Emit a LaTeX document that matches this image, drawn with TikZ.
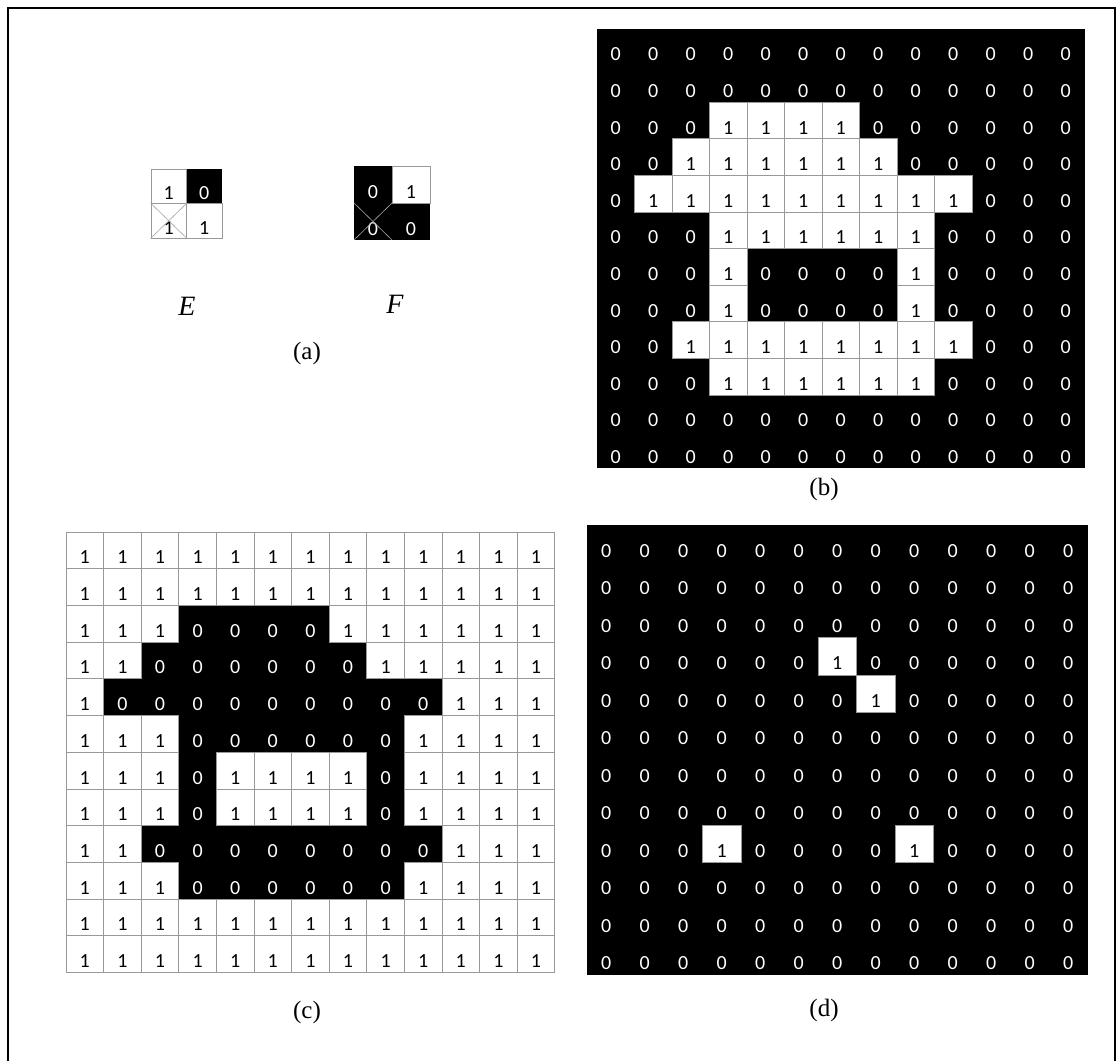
\documentclass[tikz,border=0pt]{standalone}
\usepackage{fontspec}
\setmainfont{Liberation Serif}
\newfontfamily\cellfont{Carlito}
\usepackage{tikz}
\usetikzlibrary{positioning}

% cell values, one brace group per row
\def\gridE{{1,0},{1,1}}
\def\gridF{{0,1},{0,0}}
\def\gridB{{0,0,0,0,0,0,0,0,0,0,0,0,0},{0,0,0,0,0,0,0,0,0,0,0,0,0},{0,0,0,1,1,1,1,0,0,0,0,0,0},{0,0,1,1,1,1,1,1,0,0,0,0,0},{0,1,1,1,1,1,1,1,1,1,0,0,0},{0,0,0,1,1,1,1,1,1,0,0,0,0},{0,0,0,1,0,0,0,0,1,0,0,0,0},{0,0,0,1,0,0,0,0,1,0,0,0,0},{0,0,1,1,1,1,1,1,1,1,0,0,0},{0,0,0,1,1,1,1,1,1,0,0,0,0},{0,0,0,0,0,0,0,0,0,0,0,0,0},{0,0,0,0,0,0,0,0,0,0,0,0,0}}
\def\gridC{{1,1,1,1,1,1,1,1,1,1,1,1,1},{1,1,1,1,1,1,1,1,1,1,1,1,1},{1,1,1,0,0,0,0,1,1,1,1,1,1},{1,1,0,0,0,0,0,0,1,1,1,1,1},{1,0,0,0,0,0,0,0,0,0,1,1,1},{1,1,1,0,0,0,0,0,0,1,1,1,1},{1,1,1,0,1,1,1,1,0,1,1,1,1},{1,1,1,0,1,1,1,1,0,1,1,1,1},{1,1,0,0,0,0,0,0,0,0,1,1,1},{1,1,1,0,0,0,0,0,0,1,1,1,1},{1,1,1,1,1,1,1,1,1,1,1,1,1},{1,1,1,1,1,1,1,1,1,1,1,1,1}}
\def\gridD{{0,0,0,0,0,0,0,0,0,0,0,0,0},{0,0,0,0,0,0,0,0,0,0,0,0,0},{0,0,0,0,0,0,0,0,0,0,0,0,0},{0,0,0,0,0,0,1,0,0,0,0,0,0},{0,0,0,0,0,0,0,1,0,0,0,0,0},{0,0,0,0,0,0,0,0,0,0,0,0,0},{0,0,0,0,0,0,0,0,0,0,0,0,0},{0,0,0,0,0,0,0,0,0,0,0,0,0},{0,0,0,1,0,0,0,0,1,0,0,0,0},{0,0,0,0,0,0,0,0,0,0,0,0,0},{0,0,0,0,0,0,0,0,0,0,0,0,0},{0,0,0,0,0,0,0,0,0,0,0,0,0}}

% #1 name, #2 left, #3 top, #4 cell width, #5 cell height, #6 data
\newcommand{\pixgrid}[6]{%
  \foreach \row [count=\r from 0] in #6 {
    \foreach \v [count=\c from 0] in \row {
      \ifnum\v=0\relax
        \node[cell={#4}{#5}, zero] (#1-\r-\c) at ({#2+(\c+0.5)*#4}, {#3+(\r+0.5)*#5}) {0};
      \fi
    }
  }
  \foreach \row [count=\r from 0] in #6 {
    \foreach \v [count=\c from 0] in \row {
      \ifnum\v=1\relax
        \node[cell={#4}{#5}, one] (#1-\r-\c) at ({#2+(\c+0.5)*#4}, {#3+(\r+0.5)*#5}) {1};
      \fi
    }
  }
}

\begin{document}
\begin{tikzpicture}[
  x=1pt, y=-1pt,
  cell/.style 2 args={minimum width=#1pt, minimum height=#2pt, inner sep=0pt,
    text height=30pt, text depth=3pt, font=\cellfont\fontsize{20}{20}\selectfont},
  zero/.style={fill=black, text=white},
  one/.style={fill=white, draw=gray!80, line width=0.8pt, text=black},
  cross/.style={gray!70, line width=0.6pt},
  caption/.style={font=\fontsize{25}{30}\selectfont},
  tag/.style={font=\fontsize{28}{32}\selectfont\itshape}
]
\useasboundingbox (0,0) rectangle (1117,1061);

% frame
\draw[line width=2.5pt] (8,1061) -- (8,8) -- (1115,8) -- (1115,1061);

% (a): the two masks
\pixgrid{gE}{151}{169}{35.5}{34.5}{\gridE}
\pixgrid{gF}{354}{166}{38}{37}{\gridF}
\draw[cross] (gE-1-0.north west) -- (gE-1-0.south east);
\draw[cross] (gE-1-0.south west) -- (gE-1-0.north east);
\draw[cross] (gF-1-0.north west) -- (gF-1-0.south east);
\draw[cross] (gF-1-0.south west) -- (gF-1-0.north east);
\node[tag] (tagE) at (187,306) {E};
\node[tag] (tagF) at (395,304) {F};
\node[caption] (capA) at (307,353) {(a)};

% (b)
\pixgrid{gB}{597}{29}{37.5}{36.6}{\gridB}
\node[caption] (capB) at (824,489) {(b)};

% (c)
\pixgrid{gC}{66}{532}{37.6}{36.7}{\gridC}
\node[caption] (capC) at (307,1012) {(c)};

% (d)
\pixgrid{gD}{587}{525}{38.5}{37.5}{\gridD}
\node[caption] (capD) at (824,1010) {(d)};

\end{tikzpicture}
\end{document}
